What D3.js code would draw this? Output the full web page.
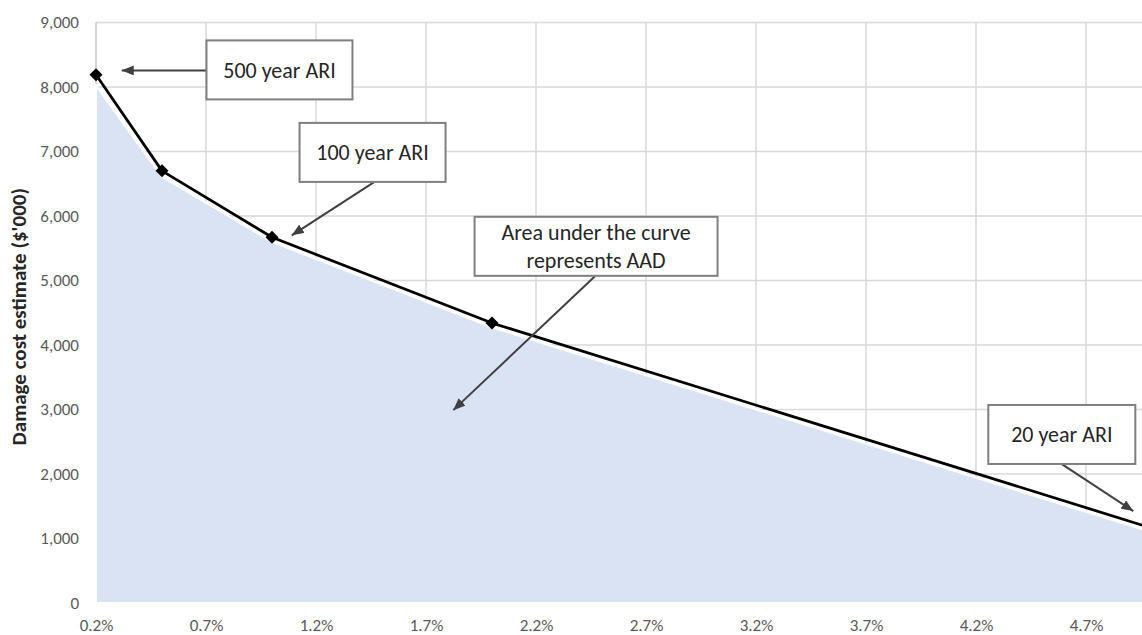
<!DOCTYPE html>
<html>
<head>
<meta charset="utf-8">
<script src="https://cdn.jsdelivr.net/npm/d3@7"></script>
<style>
  html, body { margin: 0; padding: 0; background: #ffffff; }
  svg { display: block; font-family: Carlito, Calibri, Lato, "Noto Sans", sans-serif; }
</style>
</head>
<body>
<svg id="chart" width="1142" height="635"></svg>
<script>
// Annual exceedance probability (%) of each modelled event
const probabilities = [0.2, 0.5, 1.0, 2.0, 5.0];
// Damage cost estimate ($'000) for each event
const damageCosts = [8190, 6700, 5670, 4340, 1160];
// Shaded area (drawn just beneath the damage curve)
const areaCosts = [8020, 6610, 5600, 4273, 1095];

// Axis ticks
const xTicks = [0.2, 0.7, 1.2, 1.7, 2.2, 2.7, 3.2, 3.7, 4.2, 4.7];
const yTicks = [0, 1000, 2000, 3000, 4000, 5000, 6000, 7000, 8000, 9000];

// Callouts: label lines, box centre and arrow tail/tip in data space
const calloutLabels = [["500 year ARI"], ["100 year ARI"], ["Area under the curve", "represents AAD"], ["20 year ARI"]];
const calloutCentres = [[1.034, 8265], [1.457, 6986], [2.473, 5530], [4.590, 2613]];
const calloutTails = [[0.703, 8257], [1.464, 6526], [2.468, 5065], [4.592, 2149]];
const calloutTips = [[0.317, 8257], [1.090, 5701], [1.824, 2990], [4.915, 1425]];
const calloutWidths = [146, 146, 243, 147];

const svg = d3.select("#chart");
const margin = { left: 96, top: 22.5, right: -10, bottom: 32 };
const W = 1142, H = 635;

const x = d3.scaleLinear().domain([0.2, 5.0]).range([margin.left, W - margin.right]);
const y = d3.scaleLinear().domain([0, 9000]).range([H - margin.bottom, margin.top]);

const plotLeft = margin.left, plotRight = W - margin.right;
const plotTop = margin.top, plotBottom = H - margin.bottom;

// Gridlines
const grid = svg.append("g");
grid.selectAll("line.h").data(yTicks.filter(d => d > 0)).join("line")
  .attr("x1", plotLeft).attr("x2", plotRight)
  .attr("y1", d => y(d)).attr("y2", d => y(d))
  .attr("stroke", "#d9d9d9").attr("stroke-width", 1.5);
grid.selectAll("line.v").data(xTicks.filter(d => d > 0.2)).join("line")
  .attr("x1", d => x(d)).attr("x2", d => x(d))
  .attr("y1", plotTop).attr("y2", plotBottom)
  .attr("stroke", "#d9d9d9").attr("stroke-width", 1.5);

// Axis lines
svg.append("line").attr("x1", plotLeft).attr("x2", plotLeft)
  .attr("y1", plotTop).attr("y2", plotBottom)
  .attr("stroke", "#c4c4c4").attr("stroke-width", 1.5);
svg.append("line").attr("x1", plotLeft).attr("x2", plotRight)
  .attr("y1", plotBottom).attr("y2", plotBottom)
  .attr("stroke", "#bfbfbf").attr("stroke-width", 1.5);

// Shaded area under the curve
const areaGen = d3.area()
  .x((d, i) => x(probabilities[i]))
  .y0(y(0))
  .y1(d => y(d));
svg.append("path").datum(areaCosts)
  .attr("d", areaGen)
  .attr("fill", "#dae3f3")
  .attr("stroke", "#ffffff").attr("stroke-width", 2);

// Damage curve
const lineGen = d3.line().x((d, i) => x(probabilities[i])).y(d => y(d));
svg.append("path").datum(damageCosts)
  .attr("d", lineGen)
  .attr("fill", "none")
  .attr("stroke", "#000000").attr("stroke-width", 2.75)
  .attr("stroke-linejoin", "round");

// Diamond markers
const r = 6.5;
svg.selectAll("path.marker").data(damageCosts.slice(0, 4)).join("path")
  .attr("class", "marker")
  .attr("d", `M0,${-r}L${r},0L0,${r}L${-r},0Z`)
  .attr("transform", (d, i) => `translate(${x(probabilities[i])},${y(d)})`)
  .attr("fill", "#000000");

// Y axis
const yAxis = svg.append("g")
  .attr("transform", `translate(${plotLeft},0)`)
  .call(d3.axisLeft(y).tickValues(yTicks).tickFormat(d3.format(",")).tickSize(0).tickPadding(17));
yAxis.select(".domain").remove();
yAxis.selectAll("text").attr("fill", "#595959").attr("font-size", 17)
  .attr("font-family", "Carlito, Calibri, Lato, sans-serif");

// X axis
const xAxis = svg.append("g")
  .attr("transform", `translate(0,${plotBottom})`)
  .call(d3.axisBottom(x).tickValues(xTicks).tickFormat(d => d.toFixed(1) + "%").tickSize(0).tickPadding(16));
xAxis.select(".domain").remove();
xAxis.selectAll("text").attr("fill", "#595959").attr("font-size", 17)
  .attr("font-family", "Carlito, Calibri, Lato, sans-serif");

// Y axis title
svg.append("text")
  .attr("transform", `translate(26,${(plotTop + plotBottom) / 2 + 4}) rotate(-90)`)
  .attr("text-anchor", "middle")
  .attr("font-size", 21).attr("font-weight", "bold")
  .attr("fill", "#262626")
  .text("Damage cost estimate ($'000)");

// Arrow head
svg.append("defs").append("marker")
  .attr("id", "arrowhead")
  .attr("viewBox", "0 0 12 10")
  .attr("refX", 12).attr("refY", 5)
  .attr("markerWidth", 12).attr("markerHeight", 10)
  .attr("markerUnits", "userSpaceOnUse")
  .attr("orient", "auto")
  .append("path").attr("d", "M0,0L12,5L0,10Z").attr("fill", "#404040");

// Callouts
const callouts = svg.append("g");
calloutLabels.forEach((lines, i) => {
  const [cxv, cyv] = calloutCentres[i];
  const cx = x(cxv), cy = y(cyv);
  const w = calloutWidths[i], h = 59;
  const g = callouts.append("g");
  g.append("line")
    .attr("x1", x(calloutTails[i][0])).attr("y1", y(calloutTails[i][1]))
    .attr("x2", x(calloutTips[i][0])).attr("y2", y(calloutTips[i][1]))
    .attr("stroke", "#404040").attr("stroke-width", 2)
    .attr("marker-end", "url(#arrowhead)");
  g.append("rect")
    .attr("x", cx - w / 2).attr("y", cy - h / 2)
    .attr("width", w).attr("height", h)
    .attr("fill", "#ffffff").attr("stroke", "#7f7f7f").attr("stroke-width", 2);
  const lh = 28;
  lines.forEach((t, j) => {
    g.append("text")
      .attr("x", cx)
      .attr("y", cy + (j - (lines.length - 1) / 2) * lh)
      .attr("dy", "0.35em")
      .attr("text-anchor", "middle")
      .attr("font-size", 22)
      .attr("fill", "#262626")
      .text(t);
  });
});
</script>
</body>
</html>
